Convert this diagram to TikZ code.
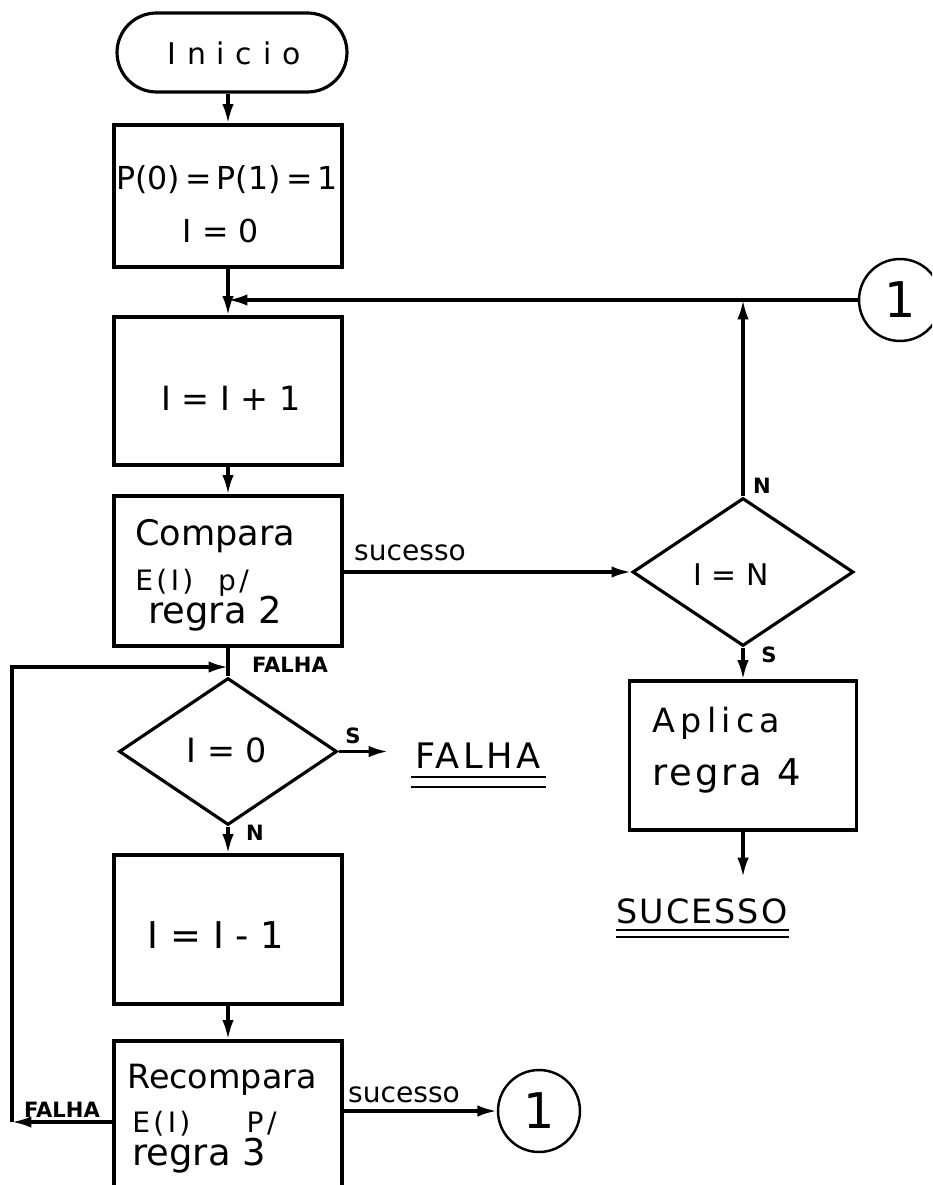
\documentclass[tikz,border=0pt]{standalone}
\usepackage{fontspec}
\setmainfont{DejaVu Sans}
\usetikzlibrary{shapes.geometric,arrows.meta}
\newcommand{\myfs}[1]{\fontsize{#1}{#1}\selectfont}
\begin{document}
\begin{tikzpicture}[x=0.02cm,y=-0.02cm,
  procbox/.style={draw, rectangle, line width=1.8pt, inner sep=0pt, minimum width=4.56cm},
  decision/.style={draw, diamond, line width=1.8pt, inner sep=0pt},
  connector/.style={draw, circle, line width=1.4pt, inner sep=0pt, minimum size=1.64cm, font=\myfs{28}},
  flow/.style={line width=1.8pt, -{Latex[length=11pt,width=6.5pt]}},
  plain/.style={line width=1.8pt},
  txt/.style={inner sep=0pt, anchor=base},
  ltxt/.style={inner sep=0pt, anchor=base west},
  lbl/.style={inner sep=0pt, anchor=base, font=\myfs{12}\bfseries},
  uline/.style={line width=1.6pt}
]
\useasboundingbox (0,0) rectangle (932,1185);
\clip (0,0) rectangle (932,1185);

% ---- main column nodes
\node[procbox, rounded corners=0.79cm, minimum width=4.6cm, minimum height=1.58cm] (start) at (232,52.5) {};
\node[txt, font={\myfs{17}\addfontfeatures{LetterSpace=36}}] (tstart) at (234,65) {Inicio};

\node[procbox, minimum height=2.84cm] (init) at (228,196) {};
\node[txt, font=\myfs{18}] (tinit1) at (227,190) {P(0)\,=\,P(1)\,=\,1};
\node[txt, font=\myfs{18}] (tinit2) at (221,243) {I = 0};

\node[procbox, minimum height=2.96cm] (inc) at (228,391) {};
\node[txt, font=\myfs{19}] (tinc) at (231,410) {I = I + 1};

\node[procbox, minimum height=3.0cm] (comp) at (228,571) {};
\node[ltxt, font=\myfs{20}] (tcomp1) at (135,545) {Compara};
\node[ltxt, font={\myfs{16}\addfontfeatures{LetterSpace=12}}] (tcomp2) at (135,590) {E(I)\ \ p/};
\node[ltxt, font=\myfs{21}] (tcomp3) at (148,623) {regra 2};

\node[decision, minimum width=4.36cm, minimum height=2.94cm] (dz) at (228,751.5) {};
\node[txt, font=\myfs{19}] (tdz) at (227,762) {I = 0};

\node[procbox, minimum height=2.98cm] (dec) at (228,929.5) {};
\node[txt, font=\myfs{21}] (tdec) at (216,948) {I = I - 1};

\node[procbox, minimum height=3.08cm] (recomp) at (228,1118) {};
\node[ltxt, font=\myfs{19}] (trec1) at (127,1088) {Recompara};
\node[ltxt, font={\myfs{16}\addfontfeatures{LetterSpace=12}}] (trec2) at (132,1132) {E(I)\quad\quad P/};
\node[ltxt, font=\myfs{21}] (trec3) at (132,1165) {regra 3};

% ---- right column nodes
\node[decision, minimum width=4.42cm, minimum height=2.96cm] (dn) at (743,572) {};
\node[txt, font=\myfs{17}] (tdn) at (731,585) {I = N};

\node[procbox, minimum width=4.54cm, minimum height=2.98cm] (apl) at (743,755.5) {};
\node[ltxt, font={\myfs{19}\addfontfeatures{LetterSpace=16}}] (tapl1) at (652,732) {Aplica};
\node[ltxt, font={\myfs{21}\addfontfeatures{LetterSpace=8}}] (tapl2) at (652,785) {regra 4};

\node[connector] (c1) at (900,300) {1};
\node[connector] (c2) at (539,1111) {1};

% ---- end texts
\node[txt, font={\myfs{20}\addfontfeatures{LetterSpace=10}}] (falha) at (478,768) {FALHA};
\draw[uline] (411,777) -- (546,777);
\draw[uline] (411,787) -- (546,787);
\node[txt, font={\myfs{19}\addfontfeatures{LetterSpace=6}}] (suc) at (702,923) {SUCESSO};
\draw[uline] (616,930) -- (789,930);
\draw[uline] (616,937) -- (789,937);

% ---- coordinates
\coordinate (J) at (228,300);
\coordinate (R) at (228,667);
\coordinate (LT) at (12,667);
\coordinate (LB) at (12,1122);
\coordinate (fzA) at (388,751.5);
\coordinate (sucA) at (743,877);

% ---- connectors
\draw[flow] (init.north |- start.south) -- (init.north);
\draw[plain] (init.south) -- (J);
\draw[flow] (J) -- (inc.north);
\draw[flow] (c1.west) -- (J);
\draw[flow] (dn.north) -- (dn.north |- J);
\draw[flow] (inc.south) -- (comp.north);
\draw[flow] (comp.east |- dn.west) -- (dn.west);
\draw[plain] (comp.south) -- (dz.north);
\draw[flow] (recomp.west |- LB) -- (LB);
\draw[flow] (LB) -- (LT) -- (R);
\draw[flow] (dz.east) -- (fzA);
\draw[flow] (dz.south) -- (dec.north);
\draw[flow] (dec.south) -- (recomp.north);
\draw[flow] (recomp.east |- c2.west) -- (c2.west);
\draw[flow] (dn.south) -- (apl.north);
\draw[flow] (apl.south) -- (sucA);

% ---- labels
\node[txt, font=\myfs{16}] (lsuc1) at (410,560) {sucesso};
\node[txt, font=\myfs{16}] (lsuc2) at (404,1102) {sucesso};
\node[lbl] (lf1) at (290,672) {FALHA};
\node[lbl] (lf2) at (62,1117) {FALHA};
\node[lbl] (ln1) at (762,493) {N};
\node[lbl] (ls1) at (769,662) {S};
\node[lbl] (ls2) at (353,743) {S};
\node[lbl] (ln2) at (255,840) {N};
\end{tikzpicture}
\end{document}
